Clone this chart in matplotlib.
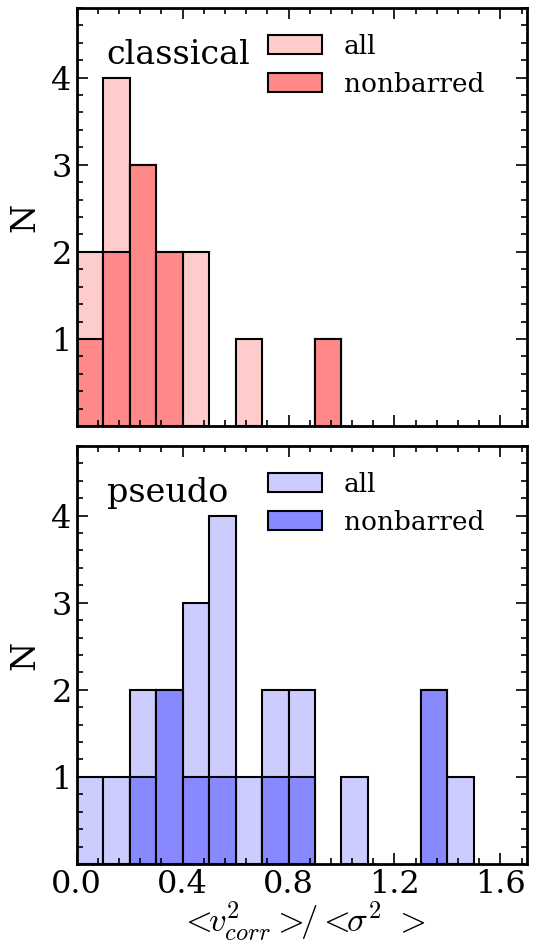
import numpy as np
import matplotlib
matplotlib.use('Agg')
import matplotlib.pyplot as plt
from matplotlib.ticker import AutoMinorLocator, MultipleLocator, FormatStrFormatter

# histogram bins (width 0.1 from 0.0)
bin_left = np.round(np.arange(0, 1.7, 0.1), 2)

classical_all = [2, 4, 3, 2, 2, 0, 1, 0, 0, 1, 0, 0, 0, 0, 0, 0, 0]
classical_nonbarred = [1, 2, 3, 2, 0, 0, 0, 0, 0, 1, 0, 0, 0, 0, 0, 0, 0]
pseudo_all = [1, 1, 2, 2, 3, 4, 1, 2, 2, 0, 1, 0, 0, 2, 1, 0, 0]
pseudo_nonbarred = [0, 0, 1, 2, 1, 1, 0, 1, 1, 0, 0, 0, 0, 2, 0, 0, 0]

panels = [
  ('classical', classical_all, classical_nonbarred, '#ffcccc', '#ff8888'),
  ('pseudo', pseudo_all, pseudo_nonbarred, '#ccccff', '#8888ff'),
]

plt.rcParams['font.family'] = 'DejaVu Serif'
plt.rcParams['mathtext.fontset'] = 'cm'

fig = plt.figure(figsize=(5.36, 9.48), dpi=100)
boxes = [[0.143, 0.5506, 0.840, 0.4410], [0.143, 0.0886, 0.840, 0.4410]]

def draw_bars(ax, counts, color, label):
  counts = np.array(counts)
  keep = counts > 0
  ax.bar(bin_left[keep], counts[keep], width=0.1, align='edge',
         color=color, edgecolor='black', linewidth=1.5, label=label)

for box, (name, all_c, nb_c, c1, c2) in zip(boxes, panels):
  ax = fig.add_axes(box)
  draw_bars(ax, all_c, c1, 'all')
  draw_bars(ax, nb_c, c2, 'nonbarred')
  ax.set_xlim(0, 1.7)
  ax.set_ylim(0, 4.8)
  ax.xaxis.set_major_locator(MultipleLocator(0.4))
  ax.xaxis.set_minor_locator(AutoMinorLocator(5))
  ax.xaxis.set_major_formatter(FormatStrFormatter('%.1f'))
  ax.set_yticks([1, 2, 3, 4])
  ax.yaxis.set_minor_locator(MultipleLocator(0.2))
  ax.tick_params(which='both', direction='in', top=True, right=True, width=1.2)
  ax.tick_params(which='major', length=8, labelsize=23)
  ax.tick_params(which='minor', length=4)
  for s in ax.spines.values():
    s.set_linewidth(2)
  ax.set_ylabel('N', fontsize=24, labelpad=7)
  ax.text(0.067, 0.867, name, transform=ax.transAxes, fontsize=24, va='baseline')
  ax.legend(loc='upper left', bbox_to_anchor=(0.373, 0.995), frameon=False,
            fontsize=19, handlelength=2.05, handleheight=0.75, handletextpad=0.8,
            labelspacing=0.5)
  if name == 'classical':
    ax.tick_params(labelbottom=False)
  else:
    ax.set_xlabel(r'$<\!\!v^2_{corr}>\!\!/<\!\!\sigma^2\ >$',
                  fontsize=25, labelpad=0)

fig.savefig('out.png', dpi=100)
